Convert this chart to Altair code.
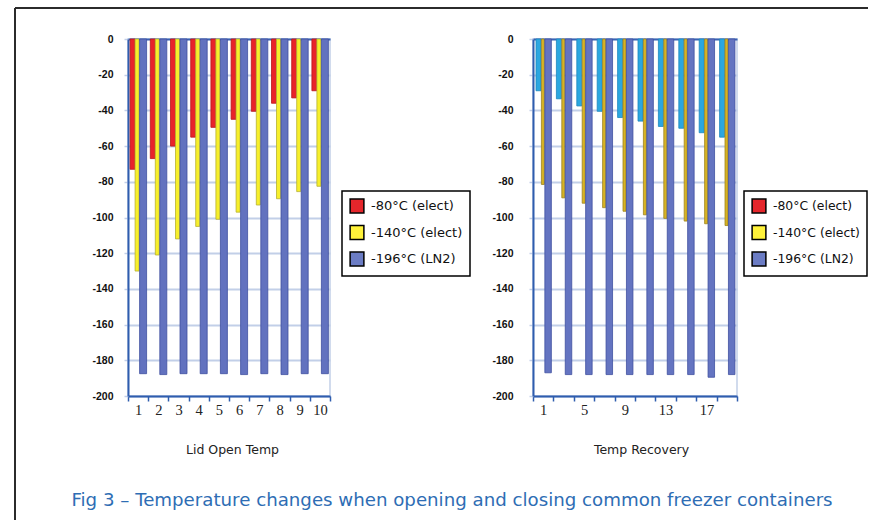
import altair as alt
import pandas as pd

series = ["-80°C (elect)", "-140°C (elect)", "-196°C (LN2)"]
legend_colors = ["#E5262B", "#FFF23A", "#6B7CC4"]

# Left panel: Lid Open Temp
lid_cats = ["1", "2", "3", "4", "5", "6", "7", "8", "9", "10"]
lid_80 = [-73, -67, -60, -55, -49.5, -45, -40.5, -36, -33, -29]
lid_140 = [-130, -121, -112, -105, -101, -97, -93, -89.5, -85.5, -82.5]
lid_196 = [-187.5, -188, -187.5, -187.5, -187.5, -188, -187.5, -188, -187.5, -187.5]

# Right panel: Temp Recovery
rec_cats = ["1", "3", "5", "7", "9", "11", "13", "15", "17", "19"]
rec_shown = ["1", "5", "9", "13", "17"]
rec_80 = [-29, -33.5, -37.5, -40.5, -44, -46, -49, -50, -52.5, -55]
rec_140 = [-81.5, -89, -92, -94.5, -96.5, -98.5, -100.5, -102, -103.5, -104.5]
rec_196 = [-187, -188, -188, -188, -188, -188, -188, -188, -189.5, -188]

y_ticks = list(range(-200, 1, 20))

caption = "Fig 3 \u2013 Temperature changes when opening and closing common freezer containers"


def long_df(cats, a, b, c):
    rows = []
    for s, vals in zip(series, (a, b, c)):
        for cat, v in zip(cats, vals):
            rows.append({"cat": cat, "series": s, "value": v})
    return pd.DataFrame(rows)


AXIS_BLUE = "#2F5DAE"
GRID = "#C2CFE8"


def panel(df, cats, fills, strokes, widths, offsets, title, title_x, legend_x,
          ypad, label_expr=None, leg_font=13):
    xaxis_kw = dict(
        title=title, labelFont="Liberation Serif", labelFontSize=14.5,
        labelColor="#222222", labelAngle=0, labelPadding=2,
        tickBand="extent", tickColor=AXIS_BLUE, tickSize=5, tickWidth=1.5,
        domainColor=AXIS_BLUE, domainWidth=2, grid=False,
        titleFont="DejaVu Sans", titleFontSize=12.5, titleFontWeight="normal",
        titleColor="#222222", titlePadding=27, titleX=title_x,
    )
    if label_expr:
        xaxis_kw["labelExpr"] = label_expr
    x = alt.X("cat:N", sort=cats,
              scale=alt.Scale(domain=cats, paddingInner=0, paddingOuter=0),
              axis=alt.Axis(**xaxis_kw))
    y = alt.Y("value:Q",
              scale=alt.Scale(domain=[-200, 0], nice=False),
              axis=alt.Axis(
                  values=y_ticks, labelExpr="'' + datum.value",
                  labelFont="Liberation Sans", labelFontWeight="bold",
                  labelFontSize=10.5, labelColor="#111111", labelPadding=ypad,
                  tickSize=4, tickColor=GRID, tickWidth=1.5,
                  domainColor=AXIS_BLUE, domainWidth=2,
                  gridColor={"condition": {"test": "datum.value === 0",
                                           "value": "#3A64B3"},
                             "value": GRID},
                  gridWidth=2.2, title=None))
    layers = []
    for s, f, st, w, dx in zip(series, fills, strokes, widths, offsets):
        layers.append(
            alt.Chart(df).transform_filter(alt.datum.series == s)
            .mark_bar(size=w, xOffset=dx, fill=f, stroke=st, strokeWidth=0.8)
            .encode(x=x, y=y)
        )
    leg_df = pd.DataFrame({"series": series})
    legend = alt.Legend(
        title=None, orient="none", legendX=legend_x, legendY=152,
        direction="vertical", symbolType="square", symbolSize=190,
        symbolStrokeColor="black", symbolStrokeWidth=1.5, symbolOpacity=1,
        labelFont="DejaVu Sans", labelFontSize=leg_font, labelColor="#111111",
        rowPadding=6.5, padding=7, strokeColor="black",
        fillColor="white", labelOffset=6, labelLimit=300,
    )
    layers.append(
        alt.Chart(leg_df).mark_square(opacity=0).encode(
            color=alt.Color("series:N", sort=series,
                            scale=alt.Scale(domain=series, range=legend_colors),
                            legend=legend))
    )
    return layers


left_layers = panel(
    long_df(lid_cats, lid_80, lid_140, lid_196), lid_cats,
    fills=["#E8232A", "#F7EF2B", "#6272BF"],
    strokes=["#B8161C", "#B5B034", "#3F4FA0"],
    widths=[5, 4, 7], offsets=[-5.5, -1, 5],
    title="Lid Open Temp", title_x=104, legend_x=214, ypad=11,
)

one = pd.DataFrame({"k": [0]})
frame_top = alt.Chart(one).mark_rule(color="#2B2B2B", strokeWidth=2).encode(
    x=alt.value(-113), x2=alt.value(740), y=alt.value(-31))
frame_left = alt.Chart(one).mark_rule(color="#2B2B2B", strokeWidth=2).encode(
    x=alt.value(-113), y=alt.value(-31), y2=alt.value(481))
cap = alt.Chart(one).mark_text(
    text=caption, font="DejaVu Sans", fontSize=18.2, color="#2E6DB4",
    align="center", baseline="middle").encode(
    x=alt.value(324), y=alt.value(462))

left = alt.layer(*left_layers, frame_top, frame_left, cap).properties(
    width=202, height=357)

right_layers = panel(
    long_df(rec_cats, rec_80, rec_140, rec_196), rec_cats,
    fills=["#2BA7E0", "#D7B324", "#6474C1"],
    strokes=["#1C86BE", "#9D8420", "#3F4FA0"],
    widths=[5, 3, 6.5], offsets=[-4.7, -0.3, 4.9],
    title="Temp Recovery", title_x=108, legend_x=211, ypad=16,
    label_expr="indexof(['1','5','9','13','17'], datum.label) >= 0 ? datum.label : ''",
    leg_font=12.4,
)
right = alt.layer(*right_layers).properties(width=204, height=357)

chart = alt.hconcat(left, right, spacing=203, bounds="flush").properties(
    padding={"left": 13, "top": 6, "right": 0, "bottom": 0},
    background="white",
).configure_view(stroke=GRID, strokeWidth=1.5).configure_legend(
    strokeWidth=1.5).resolve_scale(color="independent")

chart.save("out.html", embed_options={"renderer": "svg", "actions": False})
